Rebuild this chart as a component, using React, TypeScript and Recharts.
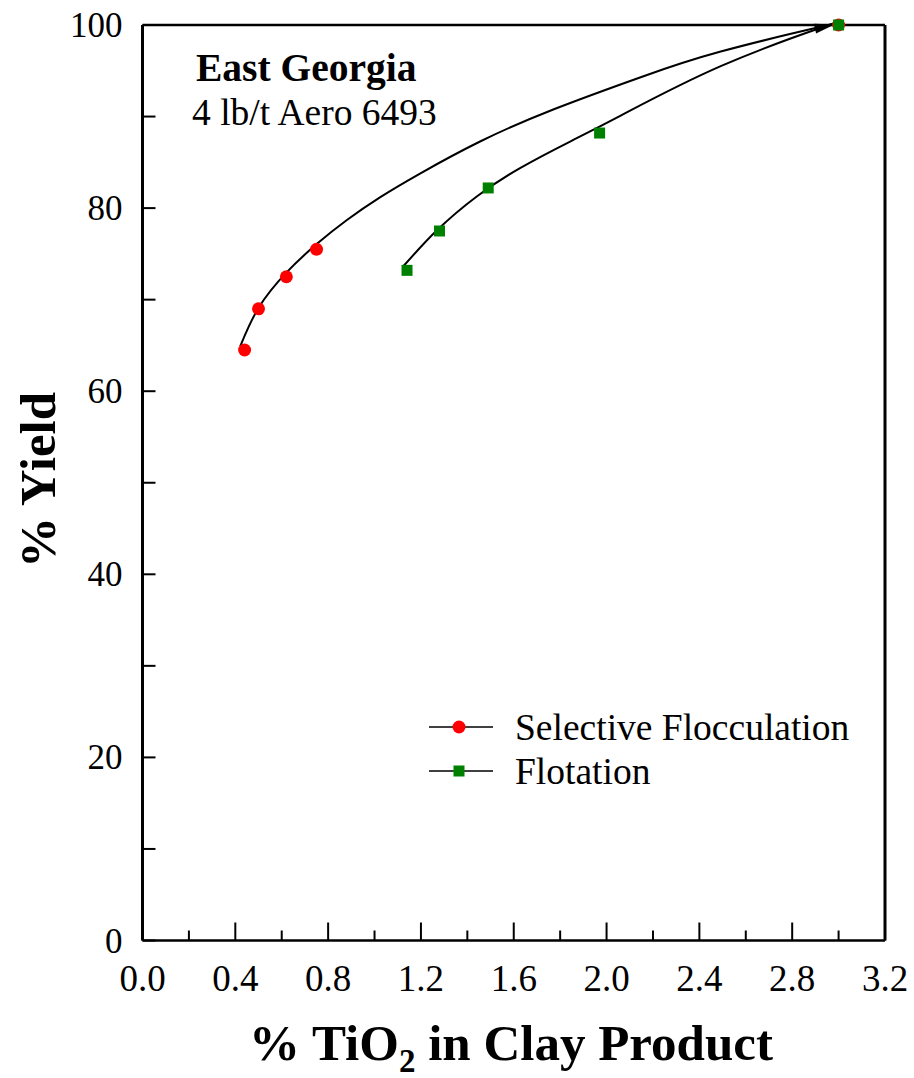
import { ComposedChart, Line, Scatter, XAxis, YAxis, Legend } from 'recharts'

const FONT = '"Liberation Serif", "Times New Roman", serif'

// measured points
const flocTiO2 = [0.44, 0.5, 0.62, 0.75, 3.0]
const flocYield = [64.5, 69.0, 72.5, 75.5, 100]
const flotTiO2 = [1.14, 1.28, 1.49, 1.97, 3.0]
const flotYield = [73.2, 77.5, 82.2, 88.2, 100]

// fitted curves
const flocFitX = [0.421, 0.5, 0.622, 0.752, 0.881, 1.025, 1.198, 1.457, 1.773, 2.147, 2.492, 2.924, 2.97]
const flocFitY = [64.9, 69.1, 73.0, 76.1, 78.7, 81.2, 83.8, 87.3, 90.8, 94.3, 97.1, 99.8, 100]
const flotFitX = [1.126, 1.27, 1.442, 1.629, 1.845, 2.061, 2.492, 2.924, 2.965]
const flotFitY = [73.7, 77.6, 81.3, 84.4, 87.3, 90.1, 95.5, 99.7, 100]

const xTicks = [0, 0.2, 0.4, 0.6, 0.8, 1.0, 1.2, 1.4, 1.6, 1.8, 2.0, 2.2, 2.4, 2.6, 2.8, 3.0, 3.2]
const yTicks = [0, 10, 20, 30, 40, 50, 60, 70, 80, 90, 100]

const zip = (xs: number[], ys: number[]) => xs.map((x, i) => ({ x, y: ys[i] }))
const flocPts = zip(flocTiO2, flocYield)
const flotPts = zip(flotTiO2, flotYield)
const flocFit = zip(flocFitX, flocFitY)
const flotFit = zip(flotFitX, flotFitY)
const arrowTip = flocFit.slice(-1)

const isMajorX = (v: number) => Math.round(v * 10) % 4 === 0
const isMajorY = (v: number) => v % 20 === 0

function BottomTick({ x, y, payload }: any) {
  const v = payload.value
  const major = isMajorX(v)
  return (
    <g>
      <line x1={x} x2={x} y1={y} y2={y - (major ? 18 : 10)} stroke="#000" strokeWidth={2} />
      {major && (
        <text x={x} y={y + 50} textAnchor="middle" fontSize={37} fontFamily={FONT} fill="#000">
          {v.toFixed(1)}
        </text>
      )}
    </g>
  )
}

function TopTick({ x, y }: any) {
  return <line x1={x} x2={x} y1={y} y2={y + 4} stroke="#000" strokeWidth={2} />
}

function LeftTick({ x, y, payload }: any) {
  const v = payload.value
  return (
    <g>
      <line x1={x} x2={x + 13} y1={y} y2={y} stroke="#000" strokeWidth={2} />
      {isMajorY(v) && (
        <text x={x - 20} y={y + 12} textAnchor="end" fontSize={35} fontFamily={FONT} fill="#000">
          {v}
        </text>
      )}
    </g>
  )
}

function RightTick({ x, y }: any) {
  return <line x1={x} x2={x + 4} y1={y} y2={y} stroke="#000" strokeWidth={2} />
}

const RedDot = (p: any) => <circle cx={p.cx} cy={p.cy} r={6.5} fill="#ff0000" />
const GreenSquare = (p: any) => <rect x={p.cx - 5.5} y={p.cy - 5.5} width={11} height={11} fill="#008000" />

// arrowhead at the end of the upper fit curve
const Arrow = (p: any) => (
  <polygon points="3,0 -17,-5 -17,5" fill="#000" transform={`translate(${p.cx},${p.cy}) rotate(-12)`} />
)

function LegendBox() {
  const items = [
    { name: 'Selective Flocculation', color: '#ff0000', sq: false },
    { name: 'Flotation', color: '#008000', sq: true },
  ]
  return (
    <div style={{ fontFamily: FONT, fontSize: 37.5, color: '#000' }}>
      {items.map((it) => (
        <div key={it.name} style={{ display: 'flex', alignItems: 'center', height: 44 }}>
          <svg width={89} height={20}>
            <line x1={3} x2={67} y1={10} y2={10} stroke="#000" strokeWidth={1.5} />
            {it.sq ? (
              <rect x={27.5} y={4.5} width={11} height={11} fill={it.color} />
            ) : (
              <circle cx={33} cy={10} r={6.5} fill={it.color} />
            )}
          </svg>
          <span>{it.name}</span>
        </div>
      ))}
    </div>
  )
}

export default function App() {
  return (
    <div style={{ position: 'absolute', left: 0, top: 0, width: 914, height: 1078, background: '#fff' }}>
      <ComposedChart width={914} height={1078} margin={{ top: 24, right: 28, bottom: 0, left: 0 }}>
        <XAxis
          dataKey="x"
          type="number"
          domain={[0, 3.2]}
          ticks={xTicks}
          interval={0}
          height={137.5}
          tickSize={0}
          tickMargin={0}
          tickLine={false}
          tick={<BottomTick />}
          axisLine={{ stroke: '#000', strokeWidth: 2.5 }}
          allowDataOverflow
        />
        <XAxis
          xAxisId="top"
          orientation="top"
          dataKey="x"
          type="number"
          domain={[0, 3.2]}
          ticks={xTicks}
          interval={0}
          height={1}
          tickSize={0}
          tickMargin={0}
          tickLine={false}
          tick={<TopTick />}
          axisLine={{ stroke: '#000', strokeWidth: 2.5 }}
        />
        <YAxis
          type="number"
          domain={[0, 100]}
          ticks={yTicks}
          interval={0}
          width={142.5}
          tickSize={0}
          tickMargin={0}
          tickLine={false}
          tick={<LeftTick />}
          axisLine={{ stroke: '#000', strokeWidth: 3 }}
        />
        <YAxis
          yAxisId="right"
          orientation="right"
          type="number"
          domain={[0, 100]}
          ticks={yTicks}
          interval={0}
          width={1}
          tickSize={0}
          tickMargin={0}
          tickLine={false}
          tick={<RightTick />}
          axisLine={{ stroke: '#000', strokeWidth: 3 }}
        />
        <Legend
          layout="vertical"
          align="center"
          verticalAlign="middle"
          content={<LegendBox />}
          wrapperStyle={{ left: 426, top: 705, width: 470 }}
        />
        <Line
          data={flocFit}
          dataKey="y"
          type="natural"
          stroke="#000"
          strokeWidth={2}
          dot={false}
          activeDot={false}
          legendType="none"
          isAnimationActive={false}
        />
        <Line
          data={flotFit}
          dataKey="y"
          type="natural"
          stroke="#000"
          strokeWidth={2}
          dot={false}
          activeDot={false}
          legendType="none"
          isAnimationActive={false}
        />
        <Scatter data={arrowTip} dataKey="y" shape={Arrow} legendType="none" isAnimationActive={false} />
        <Scatter name="Selective Flocculation" data={flocPts} dataKey="y" shape={RedDot} isAnimationActive={false} />
        <Scatter name="Flotation" data={flotPts} dataKey="y" shape={GreenSquare} isAnimationActive={false} />
      </ComposedChart>
      <svg
        width={914}
        height={1078}
        style={{ position: 'absolute', left: 0, top: 0, pointerEvents: 'none' }}
        fontFamily={FONT}
      >
        <text x={196} y={81} fontSize={39.5} fontWeight="bold">East Georgia</text>
        <text x={192} y={125} fontSize={37.5}>4 lb/t Aero 6493</text>
        <text
          x={55}
          y={480}
          fontSize={51}
          fontWeight="bold"
          textAnchor="middle"
          transform="rotate(-90 55 480)"
        >
          % Yield
        </text>
        <text x={511} y={1060} fontSize={51} fontWeight="bold" textAnchor="middle">
          % TiO<tspan fontSize={33} dy={12}>2</tspan>
          <tspan dy={-12}> in Clay Product</tspan>
        </text>
      </svg>
    </div>
  )
}
